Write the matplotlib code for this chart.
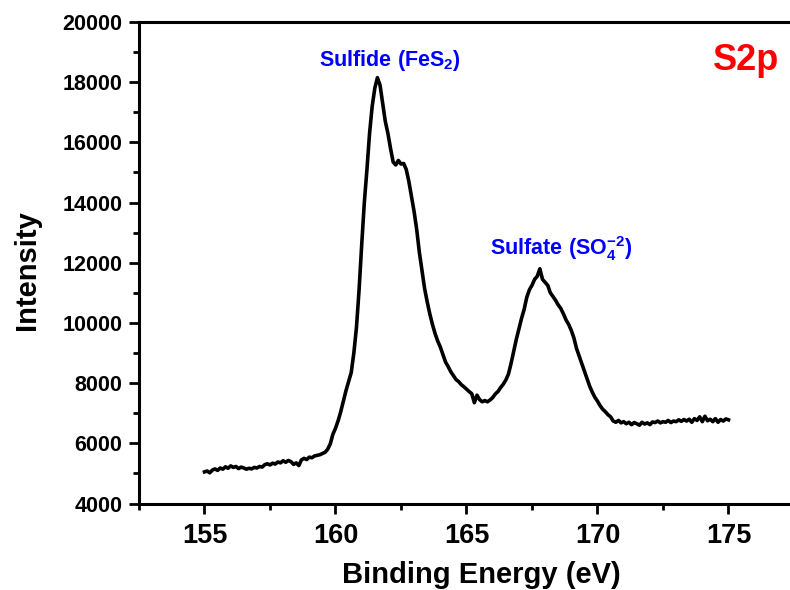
import matplotlib
matplotlib.use("Agg")
import matplotlib.pyplot as plt
from matplotlib.ticker import MultipleLocator

plt.rcParams['font.family'] = ['Liberation Sans', 'DejaVu Sans']
plt.rcParams['font.weight'] = 'bold'
plt.rcParams['mathtext.fontset'] = 'custom'
plt.rcParams['mathtext.rm'] = 'Liberation Sans:bold'
plt.rcParams['mathtext.bf'] = 'Liberation Sans:bold'
plt.rcParams['mathtext.it'] = 'Liberation Sans:bold'

# Binding energy (eV)
energy = [
    155.0, 155.1, 155.2, 155.3, 155.4, 155.5, 155.6, 155.7, 155.8, 155.9,
    156.0, 156.1, 156.2, 156.3, 156.4, 156.5, 156.6, 156.7, 156.8, 156.9,
    157.0, 157.1, 157.2, 157.3, 157.4, 157.5, 157.6, 157.7, 157.8, 157.9,
    158.0, 158.1, 158.2, 158.3, 158.4, 158.5, 158.6, 158.7, 158.8, 158.9,
    159.0, 159.1, 159.2, 159.3, 159.4, 159.5, 159.6, 159.7, 159.8, 159.9,
    160.0, 160.1, 160.2, 160.3, 160.4, 160.5, 160.6, 160.7, 160.8, 160.9,
    161.0, 161.1, 161.2, 161.3, 161.4, 161.5, 161.6, 161.7, 161.8, 161.9,
    162.0, 162.1, 162.2, 162.3, 162.4, 162.5, 162.6, 162.7, 162.8, 162.9,
    163.0, 163.1, 163.2, 163.3, 163.4, 163.5, 163.6, 163.7, 163.8, 163.9,
    164.0, 164.1, 164.2, 164.3, 164.4, 164.5, 164.6, 164.7, 164.8, 164.9,
    165.0, 165.1, 165.2, 165.3, 165.4, 165.5, 165.6, 165.7, 165.8, 165.9,
    166.0, 166.1, 166.2, 166.3, 166.4, 166.5, 166.6, 166.7, 166.8, 166.9,
    167.0, 167.1, 167.2, 167.3, 167.4, 167.5, 167.6, 167.7, 167.8, 167.9,
    168.0, 168.1, 168.2, 168.3, 168.4, 168.5, 168.6, 168.7, 168.8, 168.9,
    169.0, 169.1, 169.2, 169.3, 169.4, 169.5, 169.6, 169.7, 169.8, 169.9,
    170.0, 170.1, 170.2, 170.3, 170.4, 170.5, 170.6, 170.7, 170.8, 170.9,
    171.0, 171.1, 171.2, 171.3, 171.4, 171.5, 171.6, 171.7, 171.8, 171.9,
    172.0, 172.1, 172.2, 172.3, 172.4, 172.5, 172.6, 172.7, 172.8, 172.9,
    173.0, 173.1, 173.2, 173.3, 173.4, 173.5, 173.6, 173.7, 173.8, 173.9,
    174.0, 174.1, 174.2, 174.3, 174.4, 174.5, 174.6, 174.7, 174.8, 174.9,
    175.0,
]

# Intensity (counts)
intensity = [
    5050, 5080, 5020, 5110, 5150, 5100, 5180, 5140, 5220, 5170,
    5250, 5200, 5230, 5160, 5210, 5180, 5140, 5170, 5150, 5200,
    5180, 5230, 5210, 5290, 5320, 5280, 5340, 5310, 5380, 5350,
    5420, 5370, 5430, 5390, 5300, 5350, 5260, 5450, 5500, 5460,
    5540, 5520, 5580, 5600, 5620, 5660, 5700, 5800, 5980, 6300,
    6500, 6750, 7050, 7400, 7750, 8050, 8350, 9000, 9850, 11100,
    12600, 14000, 15100, 16300, 17200, 17800, 18150, 17900, 17300, 16700,
    16300, 15800, 15350, 15250, 15400, 15280, 15300, 15100, 14700, 14200,
    13700, 13100, 12350, 11750, 11150, 10700, 10300, 9950, 9650, 9400,
    9200, 8950, 8700, 8550, 8380, 8250, 8120, 8050, 7950, 7880,
    7800, 7720, 7650, 7350, 7600, 7450, 7380, 7420, 7380, 7440,
    7520, 7640, 7720, 7850, 7960, 8100, 8300, 8650, 9050, 9450,
    9800, 10150, 10450, 10850, 11100, 11250, 11450, 11550, 11800, 11450,
    11350, 11250, 11000, 10880, 10750, 10600, 10480, 10300, 10100, 9950,
    9750, 9500, 9150, 8900, 8650, 8400, 8150, 7900, 7700, 7530,
    7400, 7250, 7130, 7050, 6950, 6880, 6740, 6700, 6760, 6680,
    6720, 6650, 6700, 6620, 6690, 6650, 6600, 6700, 6640, 6680,
    6620, 6710, 6690, 6740, 6680, 6720, 6700, 6760, 6690, 6740,
    6720, 6780, 6730, 6790, 6740, 6800, 6700, 6820, 6760, 6880,
    6720, 6900, 6750, 6800, 6720, 6820, 6700, 6790, 6740, 6810,
    6780,
]

x_ticks = [155, 160, 165, 170, 175]
y_ticks = [4000, 6000, 8000, 10000, 12000, 14000, 16000, 18000, 20000]

fig = plt.figure(figsize=(7.9, 5.9), dpi=100)
ax = fig.add_axes([139 / 790, 1 - 503.5 / 590, 655 / 790, 481.5 / 590])

ax.plot(energy, intensity, color='black', linewidth=2.6)

ax.set_xlim(152.5, 177.5)
ax.set_ylim(4000, 20000)
ax.set_xticks(x_ticks)
ax.set_yticks(y_ticks)
ax.xaxis.set_minor_locator(MultipleLocator(2.5))
ax.yaxis.set_minor_locator(MultipleLocator(1000))

for side in ['left', 'bottom', 'top', 'right']:
    ax.spines[side].set_linewidth(2.2)

ax.tick_params(axis='both', which='major', direction='out', length=7, width=2.0)
ax.tick_params(axis='both', which='minor', direction='out', length=4, width=2.0)
ax.tick_params(axis='x', which='major', labelsize=19.5, pad=7)
ax.tick_params(axis='y', which='major', labelsize=15.5, pad=5)
for lab in ax.get_xticklabels() + ax.get_yticklabels():
    lab.set_fontweight('bold')

ax.set_xlabel('Binding Energy (eV)', fontsize=21, fontweight='bold', va='center')
ax.xaxis.set_label_coords((481 - 139) / 655, -(575 - 503.5) / 481.5)
ax.set_ylabel('Intensity', fontsize=21, fontweight='bold', va='center')
ax.yaxis.set_label_coords(-(139 - 27) / 655, (503.5 - 270) / 481.5)

ax.text(162.08, 18535, r'$\mathbf{Sulfide\ (FeS_2)}$', color='#0000ff',
        fontsize=15.5, ha='center', va='baseline')
ax.text(168.6, 12256, r'$\mathbf{Sulfate\ (SO_4^{-2})}$', color='#0000ff',
        fontsize=15.5, ha='center', va='baseline')
ax.text(174.4, 18730, 'S2p', color='#ff0000', fontsize=26, fontweight='bold',
        ha='left', va='center')

fig.savefig('out.png', dpi=100)
